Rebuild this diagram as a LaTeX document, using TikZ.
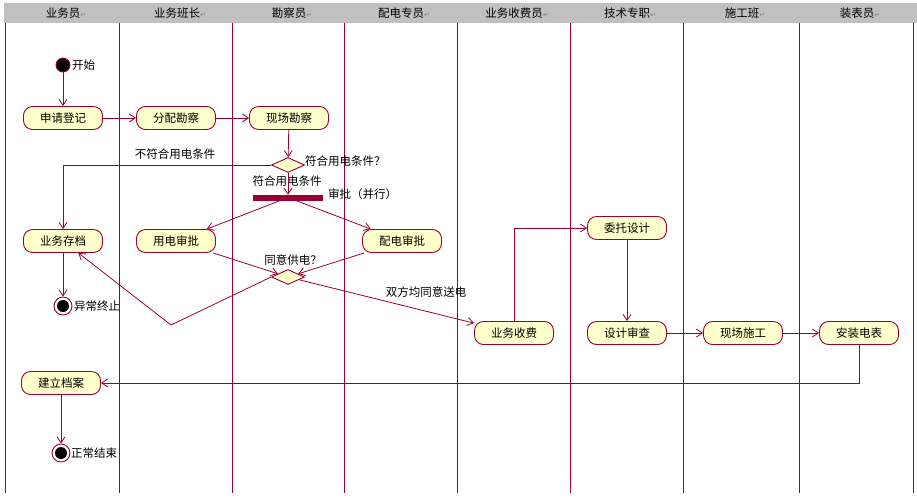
\documentclass[tikz,border=0pt]{standalone}
\usepackage{fontspec}
\setmainfont{Noto Sans CJK SC}
\newfontfamily\dvfont{DejaVu Sans}
\usetikzlibrary{arrows.meta,shapes.geometric,calc}
\definecolor{crim}{HTML}{990033}
\definecolor{nodefill}{HTML}{FFFFCC}
\definecolor{hdr}{HTML}{C0C0C0}
\tikzset{
  act/.style={draw=crim, fill=nodefill, line width=0.9pt, rounded corners=9pt, minimum width=79pt, minimum height=23pt, inner sep=0pt, font=\fontsize{11.5}{13}\selectfont},
  dec/.style={diamond, draw=crim, fill=nodefill, line width=0.9pt, minimum width=33pt, minimum height=15pt, inner sep=0pt},
  lbl/.style={font=\fontsize{11.5}{13}\selectfont, inner sep=0pt},
  hd/.style={font=\fontsize{11.5}{13}\selectfont, inner sep=0pt},
  flow/.style={draw=crim, line width=0.8pt, -{Straight Barb[length=6pt,width=8pt]}},
  lane/.style={draw=crim, line width=1pt},
}
\newcommand{\retmark}{{\dvfont\color{gray}\fontsize{7}{8}\selectfont ↵}}
\begin{document}
\begin{tikzpicture}[x=1pt,y=-1pt]
\useasboundingbox (0,0) rectangle (917,499);
\fill[hdr] (4,3) rectangle (917,23);
% lanes
\foreach \xx in {5,119,232,344,457,570,683,799,913} \draw[lane] (\xx,23) -- (\xx,493);
% headers
\node[hd] (h1) at (66,13) {业务员\retmark};
\node[hd] (h2) at (180,13) {业务班长\retmark};
\node[hd] (h3) at (292,13) {勘察员\retmark};
\node[hd] (h4) at (404,13) {配电专员\retmark};
\node[hd] (h5) at (517,13) {业务收费员\retmark};
\node[hd] (h6) at (630,13) {技术专职\retmark};
\node[hd] (h7) at (745,13) {施工班\retmark};
\node[hd] (h8) at (860,13) {装表员\retmark};
% start
\node[circle, fill=black, draw=crim, line width=0.9pt, minimum size=14pt, inner sep=0pt] (start) at (63,65) {};
\node[lbl, anchor=west] (lstart) at (72,65) {开始};
% activities
\node[act] (sq) at (63,118) {申请登记};
\node[act] (fp) at (176,118) {分配勘察};
\node[act] (xc) at (289,118) {现场勘察};
\node[dec] (d1) at (288,165) {};
\node[lbl, anchor=west] (ld1) at (305,161) {符合用电条件？};
\node[lbl] (lno) at (175,154) {不符合用电条件};
\node[lbl] (lyes) at (287,181) {符合用电条件};
\node[draw=crim, fill=crim, minimum width=69pt, minimum height=5pt, inner sep=0pt] (bar) at (288,197.5) {};
\node[lbl, anchor=west] (lbar) at (328,194) {审批（并行）};
\node[act] (cun) at (63,241) {业务存档};
\node[act] (yd) at (176,241) {用电审批};
\node[act] (pd) at (402,241) {配电审批};
\node[dec] (d2) at (288,277) {};
\node[lbl] (ld2) at (293,260) {同意供电？};
\node[lbl] (lboth) at (426,292) {双方均同意送电};
\coordinate (v) at (171,325);
% abnormal end
\node[circle, draw=crim, line width=0.9pt, minimum size=18pt, inner sep=0pt] (end1) at (63,306) {};
\fill[black] (end1.center) circle (6pt);
\node[lbl, anchor=west] (lend1) at (74,306) {异常终止};
\node[act] (sf) at (514,333) {业务收费};
\node[act] (wt) at (627,228) {委托设计};
\node[act] (sc) at (627,333) {设计审查};
\node[act] (sg) at (743,333) {现场施工};
\node[act] (az) at (859,333) {安装电表};
\node[act] (jl) at (61,383) {建立档案};
\node[circle, draw=crim, line width=0.9pt, minimum size=18pt, inner sep=0pt] (end2) at (61,453) {};
\fill[black] (end2.center) circle (6pt);
\node[lbl, anchor=west] (lend2) at (71,453) {正常结束};
% flows
\draw[flow] (start) -- (sq);
\draw[flow] (sq) -- (fp);
\draw[flow] (fp) -- (xc);
\draw[flow] (xc) -- (d1);
\draw[flow] (d1.west) -| (cun.north);
\draw[flow] (d1.south) -- (bar.north);
\draw[flow] (bar) -- (yd);
\draw[flow] (bar) -- (pd);
\draw[flow] (yd) -- (d2);
\draw[flow] (pd) -- (d2);
\draw[flow] (d2.west) -- (v) -- (cun);
\draw[flow] (d2) -- (sf);
\draw[flow] (cun) -- (end1);
\draw[flow] (sf.north) |- (wt.west);
\draw[flow] (wt) -- (sc);
\draw[flow] (sc) -- (sg);
\draw[flow] (sg) -- (az);
\draw[flow] (az.south) |- (jl.east);
\draw[flow] (jl) -- (end2);
\end{tikzpicture}
\end{document}
